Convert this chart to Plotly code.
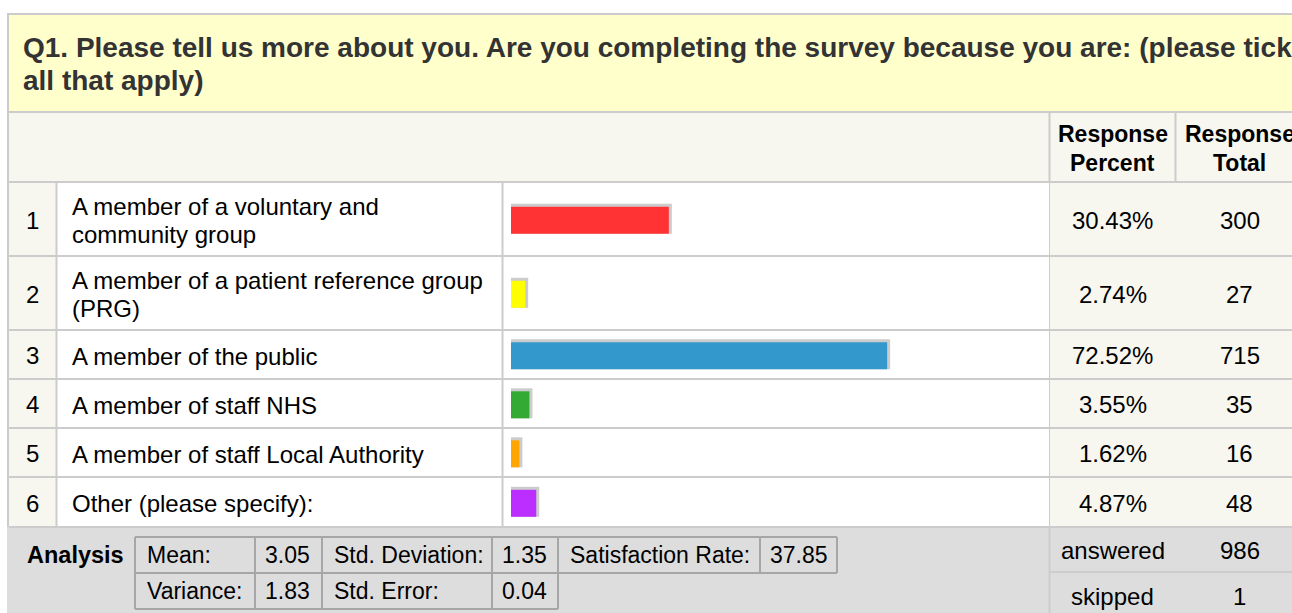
import plotly.graph_objects as go

# ---------------- data ----------------
title_lines = [
    "Q1. Please tell us more about you. Are you completing the survey because you are: (please tick",
    "all that apply)",
]
row_numbers = ["1", "2", "3", "4", "5", "6"]
option_lines = [
    ["A member of a voluntary and", "community group"],
    ["A member of a patient reference group", "(PRG)"],
    ["A member of the public"],
    ["A member of staff NHS"],
    ["A member of staff Local Authority"],
    ["Other (please specify):"],
]
percent = [30.43, 2.74, 72.52, 3.55, 1.62, 4.87]
totals = [300, 27, 715, 35, 16, 48]
bar_colors = ["#FF3333", "#FFFF00", "#3399CC", "#33AA33", "#FFA500", "#BB2EFF"]
header_percent = ["Response", "Percent"]
header_total = ["Response", "Total"]

stat_row1_labels = ["Mean:", "Std. Deviation:", "Satisfaction Rate:"]
stat_row1_values = ["3.05", "1.35", "37.85"]
stat_row2_labels = ["Variance:", "Std. Error:"]
stat_row2_values = ["1.83", "0.04"]
summary_labels = ["answered", "skipped"]
summary_values = [986, 1]

# ---------------- layout constants ----------------
W, H = 1292, 613
FONT = "Arial, 'Liberation Sans', sans-serif"
GRID = "#CCCCCC"
CREAM = "#F7F7F0"
YELLOW = "#FFFFCC"
GREY = "#DDDDDD"

col_num = (9, 56)
col_text = (57, 502)
col_bar = (503, 1049)
col_pct = (1050, 1175)
col_tot = (1176, 1305)
row_bounds = [182, 256, 330, 379, 428, 477, 527]
bar_start, bar_full = 511, 518.7
bar_h, shadow = 27, 3
BODY = 24

fig = go.Figure()
shapes = []
ann = []


def rect(x0, y0, x1, y1, color):
    shapes.append(dict(type="rect", xref="x", yref="y", x0=x0, x1=x1, y0=y0, y1=y1,
                       fillcolor=color, line=dict(width=0), layer="below"))


def line(x0, y0, x1, y1, color=GRID, w=2):
    shapes.append(dict(type="line", xref="x", yref="y", x0=x0, x1=x1, y0=y0, y1=y1,
                       line=dict(color=color, width=w), layer="below"))


def text(x, y, s, size=BODY, bold=False, anchor="left", color="#000000"):
    ann.append(dict(x=x, y=y, xref="x", yref="y", text=("<b>%s</b>" % s) if bold else s,
                    showarrow=False, xanchor=anchor, yanchor="middle",
                    font=dict(family=FONT, size=size, color=color)))


# title block
rect(9, 15, W + 10, 111, YELLOW)
line(7, 14, W + 10, 14)
line(8, 13, 8, 613)
text(20.5, 47, title_lines[0], size=28, bold=True, color="#333333")
text(20.5, 80, title_lines[1], size=28, bold=True, color="#333333")

# header row
line(9, 112, W + 10, 112)
rect(9, 113, W + 10, 181, CREAM)
for i, s in enumerate(header_percent):
    text((col_pct[0] + col_pct[1]) / 2, 134 + 29 * i, s, size=23, bold=True, anchor="center")
for i, s in enumerate(header_total):
    text((col_tot[0] + col_tot[1]) / 2 - 1, 134 + 29 * i, s, size=23, bold=True, anchor="center")
line(col_pct[0] - 0.5, 113, col_pct[0] - 0.5, 527)
line(col_tot[0] - 0.5, 113, col_tot[0] - 0.5, 613)

# body rows
n = len(percent)
rect(col_num[0], row_bounds[0], col_num[1], row_bounds[-1], CREAM)
rect(col_text[0], row_bounds[0], col_bar[1], row_bounds[-1], "#FFFFFF")
rect(col_pct[0], row_bounds[0], W + 10, row_bounds[-1], CREAM)
line(col_num[1] + 0.5, row_bounds[0], col_num[1] + 0.5, row_bounds[-1])
line(col_text[1] + 0.5, row_bounds[0], col_text[1] + 0.5, row_bounds[-1])
centers = []
for i in range(n):
    top, bot = row_bounds[i], row_bounds[i + 1]
    c = (top + bot) / 2
    centers.append(c)
    line(9, top, W + 10, top)
    text((col_num[0] + col_num[1]) / 2, c + 1, row_numbers[i], anchor="center")
    lines_ = option_lines[i]
    for j, s in enumerate(lines_):
        text(70, c + 1.5 + (j - (len(lines_) - 1) / 2) * 28, s)
    text((col_pct[0] + col_pct[1]) / 2, c + 1, "%.2f%%" % percent[i], anchor="center")
    text((col_tot[0] + col_tot[1]) / 2 - 1, c + 1, str(totals[i]), anchor="center")

# analysis row
rect(7, row_bounds[-1], W + 10, H + 5, GREY)
line(9, row_bounds[-1], W + 10, row_bounds[-1])
line(col_pct[0] - 0.5, row_bounds[-1], col_pct[0] - 0.5, H + 5)
line(col_pct[0], 572, W + 10, 572)
for i, s in enumerate(summary_labels):
    cy = 550 + 46 * i
    text((col_pct[0] + col_pct[1]) / 2, cy, s, anchor="center")
    text((col_tot[0] + col_tot[1]) / 2 - 1, cy, str(summary_values[i]), anchor="center")

text(25, 555, "Analysis", size=23.5, bold=True)
ABORDER = "#A6A6A6"
xs1 = [135, 255, 322, 492, 558, 760, 837]
xs2 = xs1[:5]
line(xs1[0], 537, xs1[-1], 537, ABORDER)
line(xs1[0], 573, xs1[-1], 573, ABORDER)
line(xs2[0], 609, xs2[-1], 609, ABORDER)
for x in xs1:
    line(x, 537, x, 573, ABORDER)
for x in xs2:
    line(x, 573, x, 609, ABORDER)
for k in range(len(stat_row1_labels)):
    text(xs1[2 * k] + 10, 555, stat_row1_labels[k], size=23)
    text(xs1[2 * k + 1] + 8, 555, stat_row1_values[k], size=23)
for k in range(len(stat_row2_labels)):
    text(xs2[2 * k] + 10, 591, stat_row2_labels[k], size=23)
    text(xs2[2 * k + 1] + 8, 591, stat_row2_values[k], size=23)

# bars (drawn on an axis scaled 0-100 % over the bar area)
px_per_unit = bar_full / 100.0
bar_centers = [c + 1.3 for c in centers]
fig.add_trace(go.Bar(
    orientation="h", xaxis="x2", yaxis="y",
    x=[p + shadow / px_per_unit for p in percent],
    y=[c - shadow / 2 for c in bar_centers],
    width=[bar_h + shadow] * n, base=0,
    marker=dict(color="#CCCCCC", line=dict(width=0)),
    hoverinfo="skip", showlegend=False))
fig.add_trace(go.Bar(
    orientation="h", xaxis="x2", yaxis="y",
    x=percent, y=bar_centers, width=[bar_h] * n, base=0,
    marker=dict(color=bar_colors, line=dict(width=0)),
    hoverinfo="skip", showlegend=False))

fig.update_layout(
    width=W, height=H, margin=dict(l=0, r=0, t=0, b=0),
    paper_bgcolor="#FFFFFF", plot_bgcolor="rgba(0,0,0,0)",
    xaxis=dict(range=[0, W], visible=False, fixedrange=True),
    xaxis2=dict(domain=[bar_start / W, (bar_start + bar_full) / W], range=[0, 100],
                anchor="y", visible=False, fixedrange=True),
    yaxis=dict(range=[H, 0], visible=False, fixedrange=True),
    shapes=shapes, annotations=ann, barmode="overlay", showlegend=False,
)

fig.write_html("out.html", post_script="document.body.style.margin='0';",
               config={"displayModeBar": False})
